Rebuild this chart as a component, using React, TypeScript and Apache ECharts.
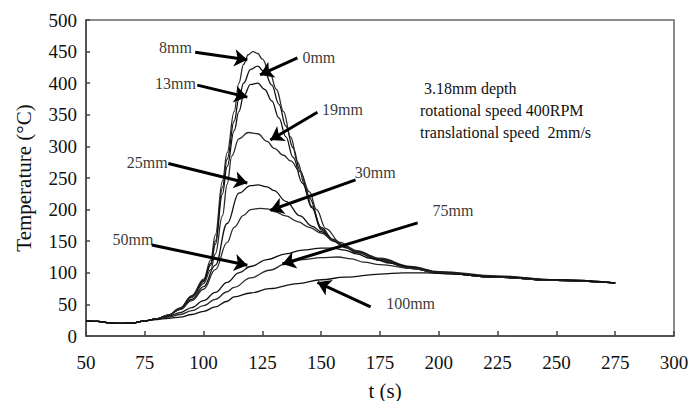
import React, { useEffect, useRef } from "react";
import * as echarts from "echarts";

const xTicks = { min: 50, max: 300, interval: 25 };
const yTicks = { min: 0, max: 500, interval: 50 };

const start: number[][] = [[50, 24], [55, 23], [60, 21], [65, 20], [70, 21], [75, 24], [80, 27], [85, 33]];

const s8mm: number[][] = [...start, [90, 44], [95, 64], [100, 90], [103, 120], [105, 160], [108, 245], [110, 290], [113, 355], [115, 400], [117, 430], [119, 445], [121, 450], [123, 447], [125, 438], [128, 418], [131, 390], [134, 355], [137, 315], [140, 275], [143, 238], [146, 205], [150, 170], [155, 152], [160, 143], [165, 135], [175, 123], [188, 110], [200, 102], [225, 95], [250, 89], [275, 84]];
const s0mm: number[][] = [...start, [90, 44], [95, 63], [100, 88], [103, 115], [105, 150], [108, 235], [110, 280], [113, 340], [115, 375], [117, 400], [120, 422], [123, 427], [126, 417], [129, 397], [132, 367], [135, 332], [138, 298], [141, 262], [145, 218], [150, 172], [155, 153], [160, 142], [165, 134], [175, 122], [188, 109], [200, 101], [225, 94], [250, 88], [275, 84]];
const s13mm: number[][] = [...start, [90, 43], [95, 62], [100, 86], [103, 112], [105, 145], [108, 225], [110, 268], [113, 325], [115, 355], [117, 380], [120, 398], [123, 400], [126, 390], [129, 372], [132, 345], [135, 315], [138, 283], [142, 242], [146, 203], [150, 168], [155, 150], [160, 140], [165, 133], [175, 121], [188, 108], [200, 100], [225, 93], [250, 88], [275, 84]];
const s19mm: number[][] = [...start, [90, 43], [95, 61], [100, 83], [103, 105], [105, 130], [108, 190], [110, 240], [112, 285], [115, 312], [119, 322], [123, 320], [127, 308], [130, 297], [134, 286], [137, 277], [141, 260], [145, 228], [148, 200], [152, 170], [158, 148], [165, 132], [175, 120], [188, 107], [200, 100], [225, 93], [250, 88], [275, 84]];
const s25mm: number[][] = [...start, [90, 42], [95, 58], [100, 78], [105, 112], [110, 178], [115, 226], [120, 238], [123, 239], [127, 236], [130, 230], [135, 213], [141, 190], [146, 174], [150, 165], [155, 152], [160, 142], [165, 133], [175, 120], [188, 107], [200, 100], [225, 93], [250, 88], [275, 84]];
const s30mm: number[][] = [...start, [90, 42], [95, 56], [100, 74], [105, 105], [110, 148], [113, 172], [117, 191], [120, 200], [124, 202], [127, 201], [130, 197], [135, 190], [140, 181], [145, 172], [150, 163], [155, 152], [160, 142], [165, 133], [175, 120], [188, 107], [200, 100], [225, 93], [250, 88], [275, 84]];
const s50mm: number[][] = [[50, 24], [55, 23], [60, 21], [65, 20], [70, 21], [75, 24], [80, 27], [85, 31], [90, 37], [95, 45], [100, 56], [105, 69], [110, 85], [115, 100], [120, 110], [127, 121], [135, 130], [142, 136], [150, 139], [155, 139], [160, 136], [165, 130], [171, 123], [180, 115], [188, 109], [200, 101], [225, 93], [250, 88], [275, 84]];
const s75mm: number[][] = [[50, 24], [55, 23], [60, 21], [65, 20], [70, 21], [75, 24], [80, 27], [85, 30], [90, 34], [95, 40], [100, 48], [105, 58], [110, 70], [113, 77], [120, 92], [128, 104], [135, 114], [142, 121], [150, 124], [157, 125], [163, 122], [168, 117], [175, 113], [188, 107], [200, 100], [225, 93], [250, 88], [275, 84]];
const s100mm: number[][] = [[50, 24], [55, 23], [60, 21], [65, 20], [70, 21], [75, 24], [80, 26], [85, 28], [90, 30], [95, 34], [100, 39], [105, 46], [110, 55], [113, 62], [120, 68], [128, 75], [140, 83], [150, 89], [160, 93], [175, 98], [185, 100], [195, 100], [205, 98], [225, 94], [250, 89], [275, 84]];

const seriesNames = ["0mm", "8mm", "13mm", "19mm", "25mm", "30mm", "50mm", "75mm", "100mm"];
const seriesData = [s0mm, s8mm, s13mm, s19mm, s25mm, s30mm, s50mm, s75mm, s100mm];

// label text and its centre in data coordinates
const labelNames = ["8mm", "0mm", "13mm", "19mm", "25mm", "30mm", "50mm", "75mm", "100mm"];
const labelPos: number[][] = [[88, 457], [149, 441], [88, 399], [159, 358], [76, 274], [173, 259], [70, 152], [206, 198], [188, 52]];
// arrows: [from, to] in data coordinates
const arrows: number[][][] = [
  [[96.4, 449], [118.6, 437]],
  [[139.9, 440], [124, 413]],
  [[97.3, 397], [118.6, 378]],
  [[148.4, 354], [128.4, 310]],
  [[85, 273], [118.6, 242]],
  [[164.6, 247], [128.4, 199]],
  [[78, 144], [118.6, 112]],
  [[191, 179], [133.5, 114]],
  [[171, 46], [148.4, 85]],
];
const infoLines = [" 3.18mm depth", "rotational speed 400RPM", "translational speed  2mm/s"];

const FONT = "Liberation Serif";

export default function App() {
  const ref = useRef<HTMLDivElement>(null);
  useEffect(() => {
    if (!ref.current) return;
    const chart = echarts.init(ref.current, undefined, { renderer: "svg" });
    const lineSeries = seriesNames.map((name, i) => ({
      name,
      type: "line",
      data: seriesData[i],
      smooth: 0.4,
      smoothMonotone: "x",
      showSymbol: false,
      lineStyle: { color: i % 2 === 0 ? "#111" : "#2a2a2a", width: 1.3 },
      z: 2,
    }));
    chart.setOption({
      animation: false,
      grid: {
        left: 86, right: 22, top: 20, bottom: 65,
        outerBoundsMode: "none", containLabel: false,
        show: true, borderColor: "#666", borderWidth: 1.5,
      },
      xAxis: {
        type: "value",
        min: xTicks.min,
        max: xTicks.max,
        interval: xTicks.interval,
        name: "t (s)",
        nameLocation: "middle",
        nameGap: 44,
        nameTextStyle: { fontFamily: FONT, fontSize: 21, color: "#111", padding: [0, 0, 0, 10] },
        axisLine: { lineStyle: { color: "#444", width: 1.5 } },
        axisTick: { inside: true, length: 5, lineStyle: { color: "#444", width: 1.5 } },
        axisLabel: { fontFamily: FONT, fontSize: 19, color: "#111", margin: 17 },
        splitLine: { show: false },
      },
      yAxis: {
        type: "value",
        min: yTicks.min,
        max: yTicks.max,
        interval: yTicks.interval,
        name: "Temperature (°C)",
        nameLocation: "middle",
        nameGap: 52,
        nameTextStyle: { fontFamily: FONT, fontSize: 21, color: "#111" },
        axisLine: { show: true, lineStyle: { color: "#444", width: 1.5 } },
        axisTick: { show: true, inside: true, length: 4, lineStyle: { color: "#444", width: 1.5 } },
        axisLabel: { fontFamily: FONT, fontSize: 19, color: "#111", margin: 9 },
        splitLine: { show: false },
      },
      series: [
        ...lineSeries,
        {
          type: "line",
          data: [],
          markLine: {
            silent: true,
            symbol: ["none", "arrow"],
            symbolSize: 13,
            label: { show: false },
            lineStyle: { color: "#000", width: 3, type: "solid" },
            itemStyle: { color: "#000" },
            data: arrows.map((a) => [{ coord: a[0] }, { coord: a[1] }]),
          },
          z: 3,
        },
        {
          type: "scatter",
          symbolSize: 0,
          data: labelPos.map((p, i) => ({ value: p, name: labelNames[i] })),
          label: {
            show: true,
            position: "inside",
            formatter: (p: any) => p.name,
            fontFamily: FONT,
            fontSize: 16,
            color: "#000",
            align: "center",
            verticalAlign: "middle",
          },
          z: 4,
        },
      ],
      graphic: [
        {
          type: "text",
          left: 420,
          top: 77,
          style: {
            text: infoLines.join("\n"),
            font: `16px "${FONT}"`,
            fill: "#111",
            lineHeight: 22,
          },
        },
      ],
    });
    return () => chart.dispose();
  }, []);
  return <div ref={ref} style={{ position: "absolute", left: 0, top: 0, width: 696, height: 401 }} />;
}
